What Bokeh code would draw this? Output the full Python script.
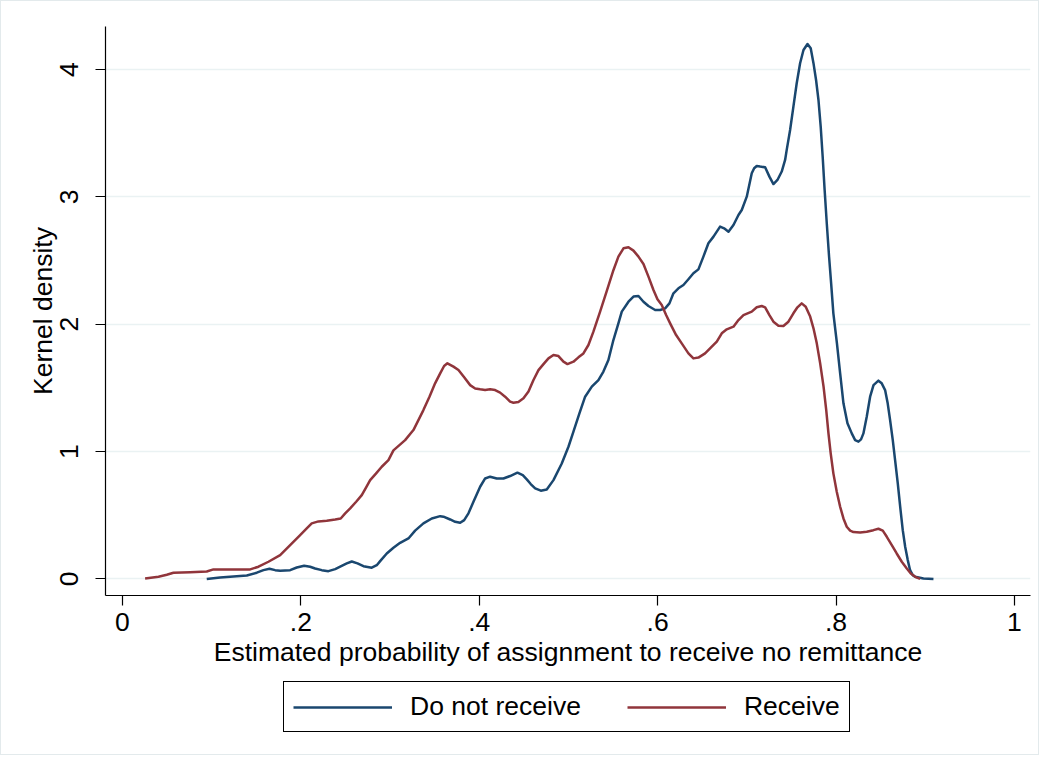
from bokeh.plotting import figure
from bokeh.models import FixedTicker, Legend, LegendItem, Range1d
from bokeh.layouts import column
from bokeh.embed import file_html
from bokeh.resources import INLINE

# Kernel density, "Do not receive" group
no_x = [0.0945, 0.1095, 0.1244, 0.1394, 0.1506, 0.1581, 0.1648, 0.1712, 0.1768, 0.1880,
        0.1954, 0.2037, 0.2104, 0.2160, 0.2234, 0.2309, 0.2385, 0.2441, 0.2515, 0.2571,
        0.2635, 0.2702, 0.2795, 0.2851, 0.2889, 0.2963, 0.3038, 0.3113, 0.3206, 0.3281,
        0.3374, 0.3468, 0.3562, 0.3599, 0.3674, 0.3730, 0.3786, 0.3831, 0.3879, 0.3935,
        0.4010, 0.4066, 0.4122, 0.4196, 0.4271, 0.4346, 0.4428, 0.4488, 0.4533, 0.4577,
        0.4627, 0.4690, 0.4757, 0.4832, 0.4925, 0.5000, 0.5056, 0.5123, 0.5187, 0.5262,
        0.5336, 0.5392, 0.5448, 0.5504, 0.5560, 0.5598, 0.5673, 0.5729, 0.5785, 0.5841,
        0.5897, 0.5972, 0.6028, 0.6084, 0.6132, 0.6177, 0.6233, 0.6289, 0.6345, 0.6401,
        0.6457, 0.6513, 0.6569, 0.6626, 0.6700, 0.6745, 0.6794, 0.6850, 0.6906, 0.6943,
        0.6999, 0.7055, 0.7082, 0.7111, 0.7149, 0.7205, 0.7253, 0.7298, 0.7343, 0.7391,
        0.7429, 0.7447, 0.7485, 0.7522, 0.7559, 0.7597, 0.7635, 0.7680, 0.7716, 0.7747,
        0.7776, 0.7803, 0.7828, 0.7850, 0.7872, 0.7896, 0.7922, 0.7945, 0.7970, 0.8010,
        0.8046, 0.8083, 0.8128, 0.8176, 0.8214, 0.8251, 0.8280, 0.8307, 0.8344, 0.8382,
        0.8420, 0.8475, 0.8512, 0.8550, 0.8579, 0.8606, 0.8636, 0.8662, 0.8692, 0.8719,
        0.8748, 0.8775, 0.8804, 0.8830, 0.8860, 0.8887, 0.8980, 0.9092]
no_y = [0.000, 0.012, 0.020, 0.027, 0.049, 0.069, 0.080, 0.069, 0.064, 0.069,
        0.090, 0.104, 0.096, 0.082, 0.069, 0.061, 0.077, 0.096, 0.122, 0.137,
        0.122, 0.100, 0.088, 0.108, 0.140, 0.200, 0.245, 0.284, 0.318, 0.379,
        0.436, 0.475, 0.493, 0.489, 0.467, 0.449, 0.441, 0.462, 0.515, 0.606,
        0.724, 0.789, 0.803, 0.789, 0.789, 0.808, 0.834, 0.815, 0.782, 0.745,
        0.711, 0.693, 0.703, 0.776, 0.907, 1.038, 1.156, 1.300, 1.431, 1.510,
        1.562, 1.628, 1.719, 1.876, 2.007, 2.099, 2.177, 2.217, 2.222, 2.177,
        2.143, 2.112, 2.112, 2.125, 2.164, 2.243, 2.282, 2.308, 2.353, 2.400,
        2.431, 2.531, 2.636, 2.688, 2.767, 2.753, 2.727, 2.779, 2.858, 2.897,
        3.002, 3.185, 3.225, 3.243, 3.238, 3.232, 3.159, 3.101, 3.133, 3.199,
        3.290, 3.369, 3.525, 3.709, 3.892, 4.049, 4.154, 4.201, 4.167, 4.050,
        3.918, 3.761, 3.552, 3.317, 3.055, 2.793, 2.530, 2.321, 2.086, 1.850,
        1.614, 1.379, 1.222, 1.143, 1.090, 1.078, 1.096, 1.143, 1.274, 1.431,
        1.522, 1.557, 1.536, 1.483, 1.379, 1.247, 1.090, 0.933, 0.750, 0.567,
        0.383, 0.253, 0.148, 0.069, 0.030, 0.017, 0.004, 0.000]

# Kernel density, "Receive" group
rec_x = [0.0254, 0.0404, 0.0497, 0.0572, 0.0759, 0.0945, 0.1020, 0.1244, 0.1432, 0.1525,
         0.1637, 0.1768, 0.1880, 0.1992, 0.2066, 0.2122, 0.2197, 0.2290, 0.2385, 0.2447,
         0.2497, 0.2553, 0.2620, 0.2683, 0.2732, 0.2777, 0.2844, 0.2907, 0.2982, 0.3038,
         0.3169, 0.3262, 0.3318, 0.3374, 0.3442, 0.3505, 0.3562, 0.3606, 0.3643, 0.3711,
         0.3767, 0.3831, 0.3898, 0.3954, 0.4010, 0.4066, 0.4122, 0.4178, 0.4234, 0.4290,
         0.4346, 0.4383, 0.4439, 0.4496, 0.4552, 0.4608, 0.4664, 0.4720, 0.4776, 0.4832,
         0.4888, 0.4944, 0.4989, 0.5056, 0.5112, 0.5168, 0.5224, 0.5280, 0.5355, 0.5430,
         0.5505, 0.5560, 0.5617, 0.5673, 0.5729, 0.5785, 0.5841, 0.5897, 0.5953, 0.5998,
         0.6046, 0.6095, 0.6140, 0.6207, 0.6270, 0.6345, 0.6401, 0.6457, 0.6532, 0.6607,
         0.6663, 0.6719, 0.6775, 0.6850, 0.6906, 0.6962, 0.7055, 0.7111, 0.7167, 0.7205,
         0.7253, 0.7298, 0.7354, 0.7410, 0.7466, 0.7522, 0.7567, 0.7615, 0.7660, 0.7710,
         0.7747, 0.7784, 0.7822, 0.7860, 0.7890, 0.7915, 0.7940, 0.7970, 0.8008, 0.8046,
         0.8083, 0.8120, 0.8158, 0.8195, 0.8270, 0.8344, 0.8419, 0.8475, 0.8524, 0.8569,
         0.8625, 0.8680, 0.8737, 0.8793, 0.8838, 0.8887, 0.8943]
rec_y = [0.004, 0.017, 0.033, 0.049, 0.053, 0.059, 0.075, 0.075, 0.075, 0.096,
         0.135, 0.187, 0.266, 0.344, 0.397, 0.436, 0.452, 0.457, 0.467, 0.475,
         0.515, 0.554, 0.606, 0.658, 0.719, 0.776, 0.829, 0.881, 0.933, 1.010,
         1.090, 1.169, 1.247, 1.326, 1.431, 1.536, 1.614, 1.672, 1.693, 1.667,
         1.640, 1.583, 1.522, 1.496, 1.489, 1.483, 1.489, 1.483, 1.463, 1.431,
         1.392, 1.384, 1.389, 1.418, 1.471, 1.562, 1.640, 1.687, 1.732, 1.758,
         1.750, 1.706, 1.687, 1.706, 1.740, 1.771, 1.837, 1.942, 2.099, 2.262,
         2.426, 2.531, 2.596, 2.604, 2.578, 2.531, 2.473, 2.374, 2.269, 2.196,
         2.151, 2.072, 2.007, 1.915, 1.850, 1.771, 1.732, 1.738, 1.771, 1.824,
         1.863, 1.929, 1.960, 1.981, 2.033, 2.072, 2.099, 2.133, 2.143, 2.133,
         2.072, 2.020, 1.989, 1.986, 2.020, 2.086, 2.133, 2.164, 2.138, 2.060,
         1.968, 1.850, 1.693, 1.510, 1.326, 1.143, 0.986, 0.829, 0.685, 0.567,
         0.475, 0.410, 0.379, 0.368, 0.365, 0.371, 0.383, 0.394, 0.379, 0.331,
         0.266, 0.200, 0.135, 0.082, 0.043, 0.017, 0.000]

x_ticks = [0, 0.2, 0.4, 0.6, 0.8, 1]
x_tick_labels = ["0", ".2", ".4", ".6", ".8", "1"]
y_ticks = [0, 1, 2, 3, 4]

series_names = ["Do not receive", "Receive"]
x_title = "Estimated probability of assignment to receive no remittance"
y_title = "Kernel density"

FONT = "Liberation Sans"
FS = "26.5px"
BLUE = "#1a476f"
RED = "#90353b"

# main chart
p = figure(width=1037, height=680,
           x_range=Range1d(-0.019, 1.018), y_range=Range1d(-0.13, 4.338),
           output_backend="svg", toolbar_location=None,
           min_border_left=104, min_border_right=8,
           min_border_top=25, min_border_bottom=86)
p.background_fill_color = "white"
p.border_fill_color = "white"
p.outline_line_color = None

p.xgrid.visible = False
p.ygrid.grid_line_color = "#eaf2f3"
p.ygrid.grid_line_width = 1.5

p.xaxis.ticker = FixedTicker(ticks=x_ticks)
p.xaxis.major_label_overrides = {t: l for t, l in zip(x_ticks, x_tick_labels)}
p.yaxis.ticker = FixedTicker(ticks=y_ticks)
p.yaxis.major_label_orientation = "vertical"
p.xaxis.axis_label = x_title
p.yaxis.axis_label = y_title

for ax in (p.xaxis, p.yaxis):
    ax.axis_line_color = "black"
    ax.axis_line_width = 1.2
    ax.major_tick_line_color = "black"
    ax.major_tick_line_width = 1.2
    ax.major_tick_out = 10
    ax.major_tick_in = 0
    ax.minor_tick_line_color = None
    ax.major_label_text_font = FONT
    ax.major_label_text_font_size = FS
    ax.major_label_text_color = "black"
    ax.axis_label_text_font = FONT
    ax.axis_label_text_font_size = FS
    ax.axis_label_text_font_style = "normal"
    ax.axis_label_text_color = "black"

p.xaxis.major_label_standoff = 7
p.xaxis.axis_label_standoff = 3
p.yaxis.major_label_standoff = 17
p.yaxis.axis_label_standoff = 0

p.line(no_x, no_y, line_color=BLUE, line_width=2.5, line_join="round")
p.line(rec_x, rec_y, line_color=RED, line_width=2.5, line_join="round")

# legend strip below the chart (same series, drawn outside its visible range)
lg = figure(width=1037, height=73, x_range=Range1d(0, 1), y_range=Range1d(10, 11),
            output_backend="svg", toolbar_location=None, min_border=0,
            x_axis_location=None, y_axis_location=None)
lg.grid.visible = False
lg.outline_line_color = None
lg.background_fill_color = "white"
lg.border_fill_color = "white"
k1 = lg.line(no_x, no_y, line_color=BLUE, line_width=2.5)
k2 = lg.line(rec_x, rec_y, line_color=RED, line_width=2.5)

legend = Legend(items=[LegendItem(label=series_names[0], renderers=[k1]),
                       LegendItem(label=series_names[1], renderers=[k2])],
                orientation="horizontal", location=(178, 22),
                border_line_color="black", border_line_width=1.2,
                border_line_alpha=1.0,
                padding=9, spacing=46, label_standoff=18,
                glyph_width=99, glyph_height=20, margin=0,
                label_text_font=FONT, label_text_font_size=FS,
                label_text_color="black",
                background_fill_color="white", background_fill_alpha=1)
lg.add_layout(legend)

layout = column(p, lg, spacing=0)
layout.styles = {"border": "1px solid #e3eaec"}

open("out.html", "w").write(file_html(layout, INLINE))
